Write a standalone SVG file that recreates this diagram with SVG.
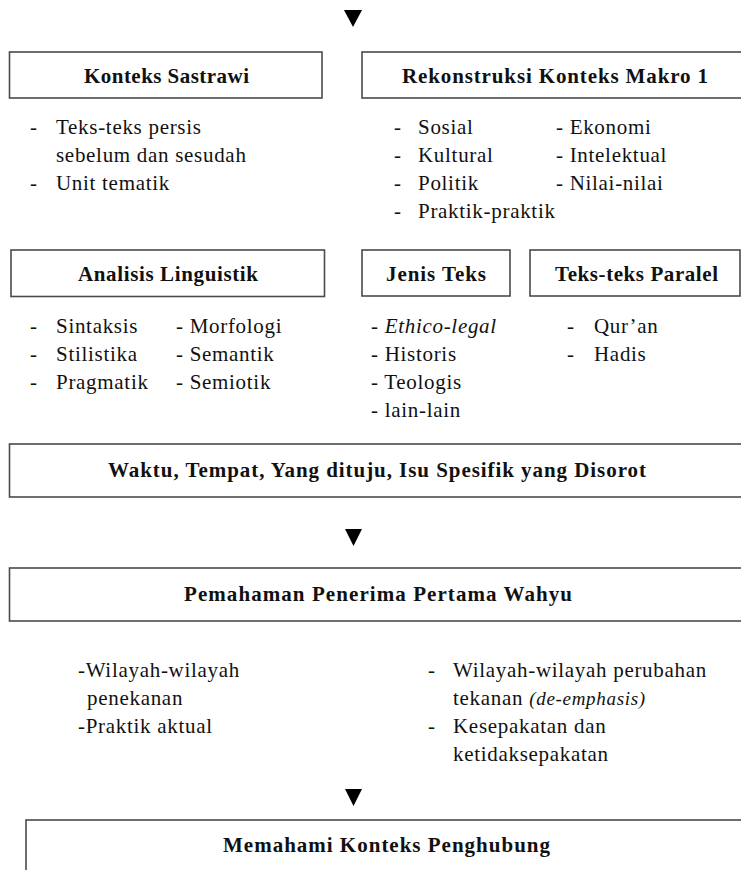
<svg xmlns="http://www.w3.org/2000/svg" width="741" height="870" viewBox="0 0 741 870">
<style>
.box{fill:#fff;stroke:#4a4a4a;stroke-width:1.6}
.h{font-family:"Liberation Serif",serif;font-weight:bold;font-size:21px;fill:#111;text-anchor:middle}
.t{font-family:"Liberation Serif",serif;font-size:21px;fill:#111;letter-spacing:0.7px}
.tri{fill:#000}
</style>
<rect width="741" height="870" fill="#fff"/>
<g id="connectors">
<polygon class="tri" points="344,10 362,10 353,27"/>
<polygon class="tri" points="345,529 362,529 353.5,546"/>
<polygon class="tri" points="345,789 362,789 353.5,806"/>
</g>
<g id="konteks-sastrawi">
<rect class="box" x="9.5" y="52" width="312.5" height="46"/>
<text class="h" x="166.5" y="83" textLength="165" lengthAdjust="spacing">Konteks Sastrawi</text>
<text class="t" x="30" y="134">-</text><text class="t" x="56" y="134">Teks-teks persis</text>
<text class="t" x="56" y="162">sebelum dan sesudah</text>
<text class="t" x="30" y="190">-</text><text class="t" x="56" y="190">Unit tematik</text>
</g>
<g id="rekonstruksi">
<rect class="box" x="362" y="52" width="390" height="46"/>
<text class="h" x="555" y="83" textLength="306" lengthAdjust="spacing">Rekonstruksi Konteks Makro 1</text>
<text class="t" x="394" y="134">-</text><text class="t" x="418" y="134">Sosial</text>
<text class="t" x="394" y="162">-</text><text class="t" x="418" y="162">Kultural</text>
<text class="t" x="394" y="190">-</text><text class="t" x="418" y="190">Politik</text>
<text class="t" x="394" y="218">-</text><text class="t" x="418" y="218">Praktik-praktik</text>
<text class="t" x="556" y="134">- Ekonomi</text>
<text class="t" x="556" y="162">- Intelektual</text>
<text class="t" x="556" y="190">- Nilai-nilai</text>
</g>
<g id="analisis-linguistik">
<rect class="box" x="11" y="250" width="313.5" height="46.5"/>
<text class="h" x="168" y="281" textLength="180" lengthAdjust="spacing">Analisis Linguistik</text>
<text class="t" x="30" y="333">-</text><text class="t" x="56" y="333">Sintaksis</text>
<text class="t" x="30" y="361">-</text><text class="t" x="56" y="361">Stilistika</text>
<text class="t" x="30" y="389">-</text><text class="t" x="56" y="389">Pragmatik</text>
<text class="t" x="176" y="333">- Morfologi</text>
<text class="t" x="176" y="361">- Semantik</text>
<text class="t" x="176" y="389">- Semiotik</text>
</g>
<g id="jenis-teks">
<rect class="box" x="362" y="250" width="148" height="46"/>
<text class="h" x="436" y="281" textLength="100" lengthAdjust="spacing">Jenis Teks</text>
<text class="t" x="371" y="333">- <tspan font-style="italic">Ethico-legal</tspan></text>
<text class="t" x="371" y="361">- Historis</text>
<text class="t" x="371" y="389">- Teologis</text>
<text class="t" x="371" y="417">- lain-lain</text>
</g>
<g id="teks-paralel">
<rect class="box" x="530" y="250" width="210" height="46"/>
<text class="h" x="636.5" y="281" textLength="163" lengthAdjust="spacing">Teks-teks Paralel</text>
<text class="t" x="567" y="333">-</text><text class="t" x="594" y="333">Qur’an</text>
<text class="t" x="567" y="361">-</text><text class="t" x="594" y="361">Hadis</text>
</g>
<g id="waktu">
<rect class="box" x="9.5" y="444" width="745" height="53"/>
<text class="h" x="377" y="477" textLength="538" lengthAdjust="spacing">Waktu, Tempat, Yang dituju, Isu Spesifik yang Disorot</text>
</g>
<g id="pemahaman">
<rect class="box" x="9.5" y="568" width="745" height="53"/>
<text class="h" x="378" y="601" textLength="388" lengthAdjust="spacing">Pemahaman Penerima Pertama Wahyu</text>
<text class="t" x="78" y="677">-Wilayah-wilayah</text>
<text class="t" x="87" y="705">penekanan</text>
<text class="t" x="78" y="733">-Praktik aktual</text>
<text class="t" x="428" y="677">-</text><text class="t" x="453" y="677">Wilayah-wilayah perubahan</text>
<text class="t" x="453" y="705">tekanan <tspan font-style="italic" font-size="19px">(de-emphasis)</tspan></text>
<text class="t" x="428" y="733">-</text><text class="t" x="453" y="733">Kesepakatan dan</text>
<text class="t" x="453" y="761">ketidaksepakatan</text>
</g>
<g id="memahami">
<rect class="box" x="26" y="820" width="730" height="70"/>
<text class="h" x="386.5" y="852" textLength="327" lengthAdjust="spacing">Memahami Konteks Penghubung</text>
</g>
</svg>
